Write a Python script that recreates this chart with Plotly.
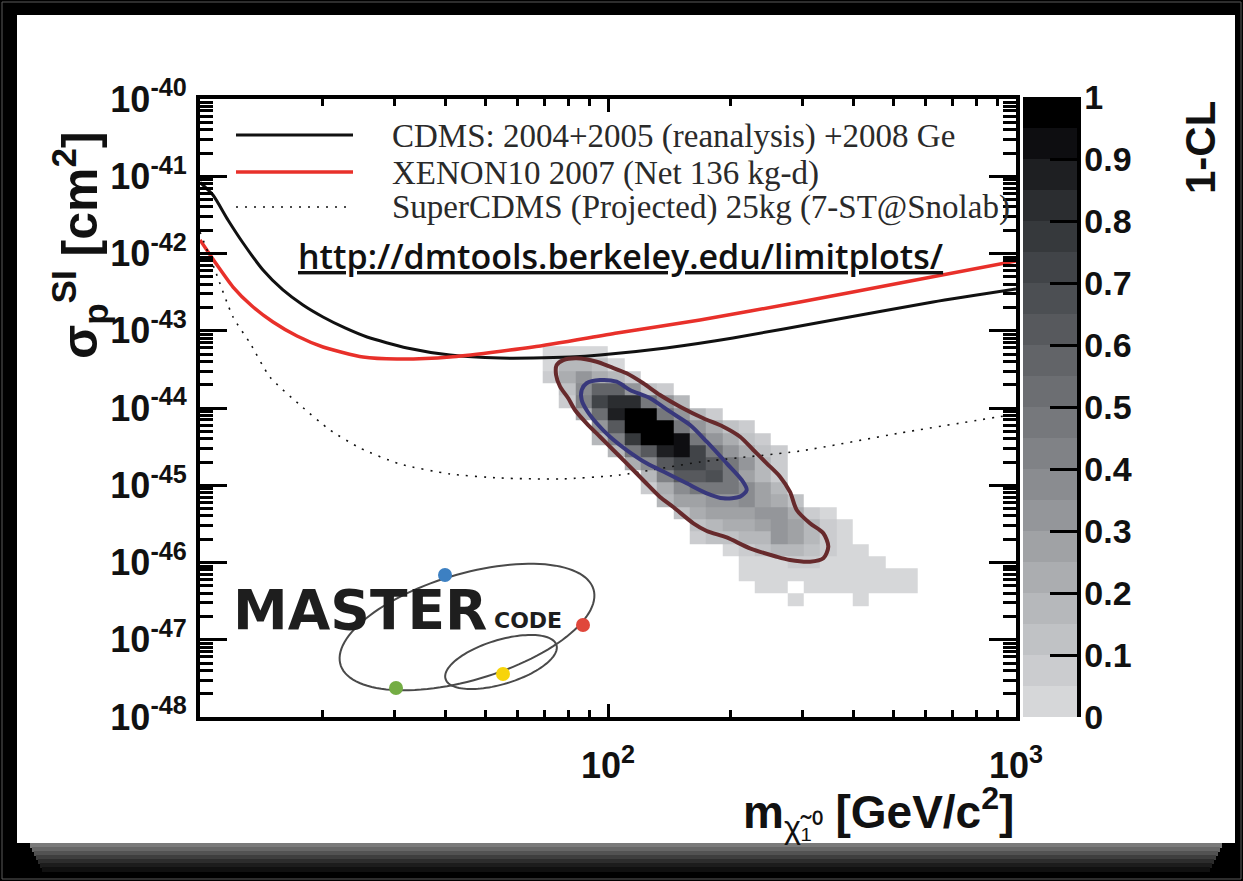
import numpy as np
import plotly.graph_objects as go

# ---------------- data ----------------
# CDMS 2004+2005 (reanalysis) + 2008 Ge, 90% CL limit
cdms_mass = [10.0, 10.76, 11.71, 12.75, 14.27, 15.97, 17.88, 20.02, 22.67, 25.67, 32.17,
             41.0, 54.4, 65.5, 80.7, 95.6, 138.8, 202.5, 356.0, 626.0, 1000.0]
cdms_log_sigma = [-41.08, -41.243, -41.566, -41.864, -42.214, -42.472, -42.667, -42.822,
                  -42.964, -43.081, -43.223, -43.314, -43.353, -43.353, -43.340, -43.314,
                  -43.223, -43.094, -42.861, -42.628, -42.460]

# XENON10 2007 (net 136 kg-d)
xenon_mass = [10.0, 10.88, 12.05, 13.41, 15.10, 17.29, 20.02, 25.09, 30.40, 41.0, 65.5,
              105.2, 168.1, 295.5, 519.6, 1000.0]
xenon_log_sigma = [-41.825, -42.110, -42.434, -42.680, -42.887, -43.068, -43.210, -43.340,
                   -43.366, -43.340, -43.210, -43.029, -42.861, -42.628, -42.382, -42.097]

# SuperCDMS projected sensitivity (25 kg, 7-ST@Snolab)
scdms_mass = [10.0, 10.88, 12.05, 13.26, 14.84, 17.58, 20.83, 24.67, 30.92, 41.0, 54.4,
              76.3, 107.0, 168.1, 295.5, 519.6, 1000.0]
scdms_log_sigma = [-41.722, -42.214, -42.822, -43.159, -43.599, -43.961, -44.285, -44.518,
                   -44.725, -44.854, -44.906, -44.919, -44.867, -44.699, -44.557, -44.324,
                   -44.078]

# 68% CL contour
c68_mass = [86.2, 88.6, 95.6, 105.0, 113.2, 126.8, 141.9, 158.9, 174.6, 195.4, 212.7, 218.8,
            210.7, 191.7, 174.6, 155.9, 139.3, 124.4, 111.1, 101.1, 93.8, 88.6, 86.2, 86.2]
c68_log_sigma = [-43.767, -43.680, -43.638, -43.660, -43.767, -43.874, -44.048, -44.220,
                 -44.436, -44.716, -44.932, -45.061, -45.148, -45.169, -45.104, -44.975,
                 -44.845, -44.716, -44.544, -44.372, -44.198, -44.026, -43.896, -43.767]

# 95% CL contour
c95_mass = [74.85, 77.7, 83.8, 93.8, 101.1, 111.1, 122.0, 134.1, 150.2, 171.2, 191.7, 210.7,
            227.1, 244.9, 264.0, 279.3, 290.1, 312.7, 337.1, 346.7, 337.1, 312.7, 279.3, 259.1,
            222.8, 195.4, 174.6, 161.9, 144.5, 134.1, 123.2, 111.1, 103.0, 95.6, 88.6, 83.0,
            79.9, 76.3, 74.6, 74.85]
c95_log_sigma = [-43.443, -43.379, -43.357, -43.401, -43.465, -43.551, -43.680, -43.832,
                 -43.983, -44.133, -44.242, -44.372, -44.544, -44.716, -44.889, -45.087,
                 -45.320, -45.493, -45.622, -45.795, -45.946, -45.990, -45.968, -45.925,
                 -45.816, -45.676, -45.592, -45.493, -45.282, -45.152, -44.958, -44.716,
                 -44.544, -44.372, -44.198, -44.026, -43.874, -43.724, -43.573, -43.443]

# 1-CL map: bins of 0.04 in log10(m) and 0.16 in log10(sigma)
log_m_edges = np.round(np.arange(1.84, 2.7601, 0.04), 2)      # 23 mass bins
log_s_edges = np.round(np.arange(-46.56, -43.1999, 0.16), 2)   # 21 sigma bins
# rows from the highest sigma bin downwards: (first mass bin, values)
cl_rows = [
    (0,  [0.03, 0.03, 0.03, 0.03]),
    (0,  [0.04, 0.15, 0.15, 0.10, 0.04]),
    (0,  [0.05, 0.20, 0.30, 0.20, 0.15, 0.08]),
    (1,  [0.10, 0.35, 0.55, 0.55, 0.30, 0.10, 0.05]),
    (1,  [0.08, 0.40, 0.70, 0.80, 0.80, 0.45, 0.30, 0.15]),
    (2,  [0.20, 0.50, 0.88, 0.98, 0.98, 0.45, 0.30, 0.15, 0.08]),
    (3,  [0.30, 0.60, 0.98, 0.98, 0.96, 0.45, 0.30, 0.20, 0.13, 0.06]),
    (3,  [0.15, 0.40, 0.75, 0.98, 0.98, 0.93, 0.45, 0.30, 0.20, 0.12, 0.06]),
    (4,  [0.15, 0.45, 0.60, 0.87, 0.93, 0.72, 0.45, 0.30, 0.20, 0.13, 0.06]),
    (5,  [0.20, 0.36, 0.62, 0.72, 0.70, 0.60, 0.45, 0.30, 0.18, 0.06]),
    (6,  [0.15, 0.40, 0.60, 0.63, 0.67, 0.45, 0.28, 0.16, 0.08]),
    (6,  [0.06, 0.22, 0.37, 0.45, 0.46, 0.45, 0.36, 0.26, 0.15]),
    (7,  [0.17, 0.25, 0.27, 0.30, 0.32, 0.35, 0.27, 0.22, 0.10]),
    (8,  [0.10, 0.20, 0.25, 0.27, 0.28, 0.32, 0.31, 0.22, 0.08, 0.03]),
    (9,  [0.10, 0.15, 0.20, 0.22, 0.25, 0.32, 0.27, 0.16, 0.06, 0.03]),
    (9,  [0.06, 0.10, 0.12, 0.15, 0.17, 0.30, 0.25, 0.15, 0.06, 0.03]),
    (11, [0.04, 0.07, 0.10, 0.15, 0.15, 0.10, 0.06, 0.03, 0.03]),
    (12, [0.03, 0.03, 0.04, 0.06, 0.06, 0.04, 0.03, 0.03, 0.03]),
    (12, [0.03, 0.03, 0.03, 0.03, 0.03, 0.03, 0.03, 0.03, 0.03, 0.03, 0.03]),
    (13, [0.03, 0.03, None, 0.03, 0.03, 0.03, 0.03, 0.03, 0.03, 0.03]),
    (15, [0.03, None, None, None, 0.03]),
]

cbar_ticks = [0, 0.1, 0.2, 0.3, 0.4, 0.5, 0.6, 0.7, 0.8, 0.9, 1]
cbar_labels = ["0", "0.1", "0.2", "0.3", "0.4", "0.5", "0.6", "0.7", "0.8", "0.9", "1"]
x_major = [100, 1000]
x_major_text = ["10<sup>2</sup>", "10<sup>3</sup>"]
y_exponents = [-48, -47, -46, -45, -44, -43, -42, -41, -40]

# ---------------- figure geometry helpers ----------------
W, H = 1243, 881
ML, MR, MT, MB = 200, 227, 99, 164
PW, PH = W - ML - MR, H - MT - MB


def px(X):
    return (X - ML) / PW


def py(Y):
    return (H - MB - Y) / PH


# ---------------- build grid ----------------
n_m = len(log_m_edges) - 1
n_s = len(log_s_edges) - 1
z = [[None] * n_m for _ in range(n_s)]
for r, (start, vals) in enumerate(cl_rows):
    row = n_s - 1 - r
    for i, v in enumerate(vals):
        z[row][start + i] = v

greys = ['#d6d7d9', '#cbcccf', '#c0c2c5', '#b6b8bb', '#abadb0', '#a0a2a5', '#94969a',
         '#8a8c90', '#808286', '#76787c', '#6c6e72', '#626468', '#57595d', '#4c4f53',
         '#414448', '#36393c', '#2b2d30', '#1e1f22', '#0e0e11', '#000000']
colorscale = []
for i, c in enumerate(greys):
    colorscale += [[i / len(greys), c], [(i + 1) / len(greys), c]]

fig = go.Figure()

fig.add_trace(go.Heatmap(
    x=10 ** log_m_edges, y=10 ** log_s_edges, z=z,
    zmin=0, zmax=1, colorscale=colorscale, zsmooth=False, hoverongaps=False,
    colorbar=dict(
        x=px(1023), xanchor='left', xpad=0, y=py(407), yanchor='middle', ypad=0,
        lenmode='pixels', len=620, thickness=54, thicknessmode='pixels',
        outlinewidth=0, tickmode='array', tickvals=cbar_ticks, ticktext=cbar_labels,
        ticks='inside', ticklen=27, tickwidth=3, tickcolor='black',
        tickfont=dict(family='Liberation Sans', size=34, color='#111111', weight='bold'),
    ),
))

line_specs = [
    (cdms_mass, cdms_log_sigma, dict(color='#111111', width=3)),
    (xenon_mass, xenon_log_sigma, dict(color='#e8302a', width=3.5)),
    (scdms_mass, scdms_log_sigma, dict(color='#111111', width=1.6, dash='2px,7px')),
]
for mx, ls, ln in line_specs:
    fig.add_trace(go.Scatter(x=mx, y=10 ** np.array(ls), mode='lines',
                             line=dict(shape='spline', smoothing=0.6, **ln),
                             showlegend=False, hoverinfo='skip'))

fig.add_trace(go.Scatter(x=c95_mass, y=10 ** np.array(c95_log_sigma), mode='lines',
                         line=dict(color='#672a2c', width=4, shape='spline', smoothing=0.8),
                         showlegend=False, hoverinfo='skip'))
fig.add_trace(go.Scatter(x=c68_mass, y=10 ** np.array(c68_log_sigma), mode='lines',
                         line=dict(color='#38387c', width=4, shape='spline', smoothing=0.8),
                         showlegend=False, hoverinfo='skip'))

# ---------------- axes ----------------
x_minor = [m * 10 ** e for e in (1, 2) for m in range(2, 10)]
y_minor = [m * 10.0 ** e for e in range(-48, -40) for m in range(2, 10)]
tickfont = dict(family='Liberation Sans', size=36, color='#111111', weight='bold')

fig.update_xaxes(
    type='log', range=[1, 3], showgrid=False, zeroline=False,
    showline=True, linewidth=4, linecolor='black', mirror='allticks',
    tickmode='array', tickvals=x_major, ticktext=x_major_text,
    ticks='inside', ticklen=13, tickwidth=3, tickcolor='black',
    tickfont=tickfont, ticklabelstandoff=14,
    minor=dict(tickmode='array', tickvals=x_minor, ticks='inside', ticklen=7,
               tickwidth=3, tickcolor='black', showgrid=False),
)
fig.update_yaxes(
    type='log', range=[-48, -40], showgrid=False, zeroline=False,
    showline=True, linewidth=4, linecolor='black', mirror='allticks',
    tickmode='array', tickvals=[10.0 ** e for e in y_exponents],
    ticktext=[f"10<sup>{e}</sup>" for e in y_exponents],
    ticks='inside', ticklen=27, tickwidth=3, tickcolor='black',
    tickfont=tickfont, ticklabelstandoff=2,
    minor=dict(tickmode='array', tickvals=y_minor, ticks='inside', ticklen=13,
               tickwidth=3, tickcolor='black', showgrid=False),
)

# ---------------- page frame ----------------
shapes = [
    dict(type='rect', xref='paper', yref='paper', x0=px(2), x1=px(1241), y0=py(879), y1=py(2),
         line=dict(color='#5a5a5a', width=1), fillcolor='rgba(0,0,0,0)', layer='below'),
    dict(type='rect', xref='paper', yref='paper', x0=px(17), x1=px(1235), y0=py(843), y1=py(15),
         line=dict(width=0), fillcolor='white', layer='below'),
]
band_greys = ['#7a7a7a', '#666666', '#525252', '#3e3e3e', '#2c2c2c', '#1c1c1c', '#101010']
for i, g in enumerate(band_greys):
    shapes.append(dict(type='rect', xref='paper', yref='paper',
                       x0=px(30 + 2 * i), x1=px(1222 - 2 * i),
                       y0=py(848 + 4 * i), y1=py(843 + 4 * i),
                       line=dict(width=0), fillcolor=g, layer='below'))

# colorbar right-hand border
shapes.append(dict(type='line', xref='paper', yref='paper', x0=px(1079), x1=px(1079),
                   y0=py(717), y1=py(97), line=dict(color='black', width=4)))

# legend glyphs
legend_rows = [
    (135, dict(color='#111111', width=3)),
    (172, dict(color='#e8302a', width=3.5)),
    (207, dict(color='#111111', width=1.6, dash='2px,7px')),
]
for yy, ln in legend_rows:
    shapes.append(dict(type='line', xref='paper', yref='paper', x0=px(236), x1=px(353),
                       y0=py(yy), y1=py(yy), line=ln))


# logo: orbit ellipses and coloured dots
def ellipse_path(cx, cy, a, b, ang_deg, n=120):
    t = np.linspace(0, 2 * np.pi, n)
    th = np.radians(ang_deg)
    X = cx + a * np.cos(t) * np.cos(th) - b * np.sin(t) * np.sin(th)
    Y = cy - (a * np.cos(t) * np.sin(th) + b * np.sin(t) * np.cos(th))
    pts = [f"{px(x):.5f},{py(y):.5f}" for x, y in zip(X, Y)]
    return "M " + " L ".join(pts) + " Z"


for cx, cy, a, b, ang in [(467, 627, 132, 53, 16.6), (501, 662, 58, 22, 17)]:
    shapes.append(dict(type='path', xref='paper', yref='paper',
                       path=ellipse_path(cx, cy, a, b, ang),
                       line=dict(color='#4a4a4a', width=2), fillcolor='rgba(0,0,0,0)'))
for cx, cy, col in [(445, 575, '#3d80c2'), (583, 625, '#e0473b'),
                    (396, 688, '#74ad44'), (503, 674, '#f7d40a')]:
    shapes.append(dict(type='circle', xref='paper', yref='paper',
                       x0=px(cx - 7), x1=px(cx + 7), y0=py(cy + 7), y1=py(cy - 7),
                       line=dict(width=0), fillcolor=col))

# ---------------- text ----------------
serif = dict(family='Liberation Serif', size=33, color='#2a2a2a')
annotations = [
    dict(text="CDMS: 2004+2005 (reanalysis) +2008 Ge", x=px(390), y=py(136)),
    dict(text="XENON10 2007 (Net 136 kg-d)", x=px(390), y=py(173)),
    dict(text="SuperCDMS (Projected) 25kg (7-ST@Snolab)", x=px(390), y=py(208)),
]
for a in annotations:
    a.update(xref='paper', yref='paper', xanchor='left', yanchor='middle',
             showarrow=False, font=serif)

annotations += [
    dict(text="<u>http://dmtools.berkeley.edu/limitplots/</u>", x=px(620), y=py(256),
         xref='paper', yref='paper', xanchor='center', yanchor='middle', showarrow=False,
         font=dict(family='Open Sans', size=34, color='#111111', weight=600)),
    dict(text="<b>σ<sub>p</sub><sup>SI</sup> [cm<sup>2</sup>]</b>", x=px(80), y=py(245),
         xref='paper', yref='paper', xanchor='center', yanchor='middle', showarrow=False,
         textangle=-90, font=dict(family='Liberation Sans', size=50, color='#111111')),
    dict(text="<b>m</b><sub>χ̃₁⁰</sub><b> [GeV/c<sup>2</sup>]</b>", x=px(1016), y=py(812),
         xref='paper', yref='paper', xanchor='right', yanchor='middle', showarrow=False,
         font=dict(family='Liberation Sans', size=46, color='#111111')),
    dict(text="<b>1-CL</b>", x=px(1200), y=py(148),
         xref='paper', yref='paper', xanchor='center', yanchor='middle', showarrow=False,
         textangle=-90, font=dict(family='Liberation Sans', size=42, color='#111111')),
    dict(text="<b>MASTER</b>", x=px(360), y=py(610),
         xref='paper', yref='paper', xanchor='center', yanchor='middle', showarrow=False,
         font=dict(family='DejaVu Sans', size=55, color='#1e1e1e')),
    dict(text="<b>CODE</b>", x=px(528), y=py(620),
         xref='paper', yref='paper', xanchor='center', yanchor='middle', showarrow=False,
         font=dict(family='DejaVu Sans', size=22, color='#1e1e1e')),
]

fig.update_layout(
    width=W, height=H, margin=dict(l=ML, r=MR, t=MT, b=MB, pad=0),
    paper_bgcolor='black', plot_bgcolor='white',
    font=dict(family='Liberation Sans'),
    shapes=shapes, annotations=annotations, showlegend=False,
)

fig.write_html("out.html")
